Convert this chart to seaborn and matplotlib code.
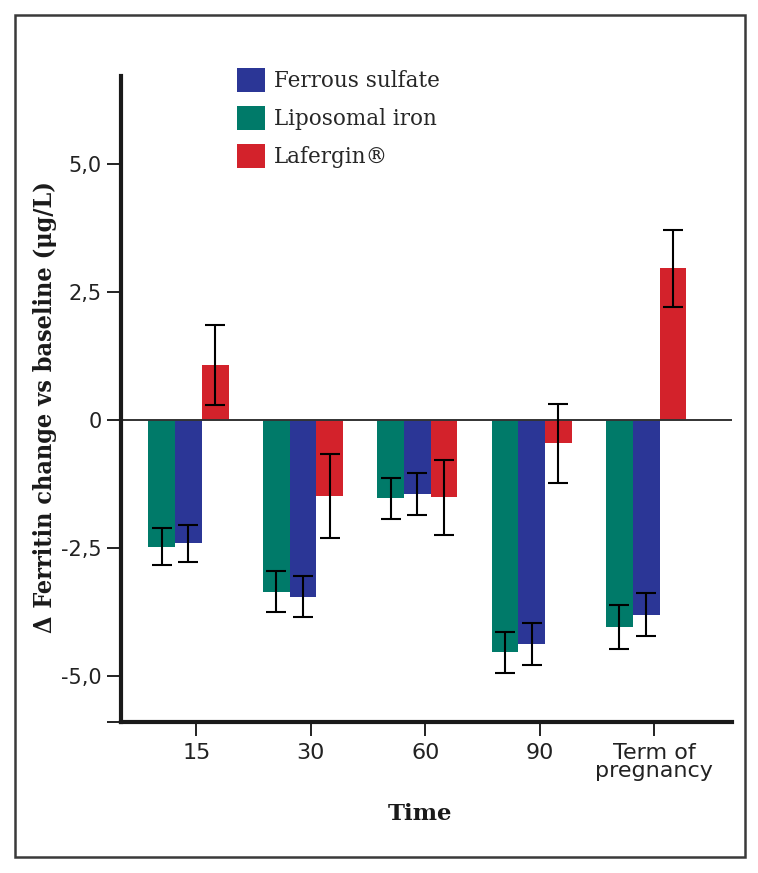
import numpy as np
import pandas as pd
import seaborn as sns
import matplotlib.pyplot as plt
from matplotlib.patches import Rectangle, Patch

times = ['15', '30', '60', '90', 'Term of\npregnancy']
ferrous = [-2.41, -3.45, -1.44, -4.38, -3.80]
ferrous_err = [0.37, 0.40, 0.41, 0.41, 0.42]
liposomal = [-2.47, -3.35, -1.53, -4.54, -4.05]
liposomal_err = [0.37, 0.40, 0.40, 0.40, 0.43]
lafergin = [1.08, -1.48, -1.51, -0.45, 2.97]
lafergin_err = [0.78, 0.82, 0.73, 0.77, 0.75]

groups = ['Liposomal iron', 'Ferrous sulfate', 'Lafergin®']
colors = {'Liposomal iron': '#007a69', 'Ferrous sulfate': '#2b3696', 'Lafergin®': '#d3222b'}

data = pd.DataFrame({
    'time': times * 3,
    'group': np.repeat(groups, len(times)),
    'value': liposomal + ferrous + lafergin,
    'err': liposomal_err + ferrous_err + lafergin_err,
})

sns.set_theme(style='white')
plt.rcParams['font.family'] = ['DejaVu Serif']

fig = plt.figure(figsize=(7.58, 8.73), dpi=100)
ax = fig.add_axes([0.1596, 0.173, 0.8061, 0.740])

sns.barplot(data=data, x='time', y='value', hue='group', hue_order=groups,
            order=times, palette=colors, errorbar=None, width=0.7,
            saturation=1, linewidth=0, ax=ax, legend=False)

# error bars at the centre of each drawn bar
for patch, (_, row) in zip(ax.patches, data.iterrows()):
    xc = patch.get_x() + patch.get_width() / 2
    ax.errorbar(xc, row['value'], yerr=row['err'], color='black',
                lw=1.5, capsize=7, capthick=1.5, zorder=5)

ax.axhline(0, color='#333333', lw=1.4, zorder=1)

ymin, ymax = -5.9, 6.73
ax.set_ylim(ymin, ymax)
ax.set_xlim(-0.59, 4.75)
ax.set_yticks([ymin, -5.0, -2.5, 0, 2.5, 5.0])
ax.set_yticklabels(['', '-5,0', '-2,5', '0', '2,5', '5,0'],
                   family=['Liberation Sans Narrow', 'DejaVu Sans'], fontsize=15)
ax.set_xticks(np.arange(len(times)) + 0.07)
ax.set_xticklabels(times, family=['Liberation Sans Narrow', 'DejaVu Sans'],
                   fontsize=16, linespacing=0.9)
ax.tick_params(axis='both', direction='out', length=10, width=1.4,
               color='#222222', labelcolor='#222222', left=True, bottom=True)
ax.tick_params(axis='y', pad=4)
ax.tick_params(axis='x', pad=5)

for side in ['top', 'right']:
    ax.spines[side].set_visible(False)
for side in ['left', 'bottom']:
    ax.spines[side].set_linewidth(3)
    ax.spines[side].set_color('#1a1a1a')

ax.set_ylabel('Δ Ferritin change vs baseline (μg/L)', fontsize=18,
              fontweight='bold', fontstretch='condensed', color='#1a1a1a')
ax.yaxis.set_label_coords(-0.104, 0.488)
ax.set_xlabel('Time', fontsize=16.5, fontweight='bold', color='#1a1a1a')
ax.xaxis.set_label_coords(0.49, -0.125)

legend_order = ['Ferrous sulfate', 'Liposomal iron', 'Lafergin®']
handles = [Patch(facecolor=colors[g], edgecolor='none') for g in legend_order]
ax.legend(handles, legend_order, loc='upper left', bbox_to_anchor=(0.175, 1.025),
          frameon=False, fontsize=15.5, handlelength=1.3, handleheight=1.3,
          handletextpad=0.45, labelspacing=0.65, borderaxespad=0)

fig.patches.append(Rectangle((0.0198, 0.0183), 0.963, 0.9645, transform=fig.transFigure,
                             fill=False, edgecolor='#3a3a3a', lw=1.8))

fig.savefig('out.png', dpi=100)
